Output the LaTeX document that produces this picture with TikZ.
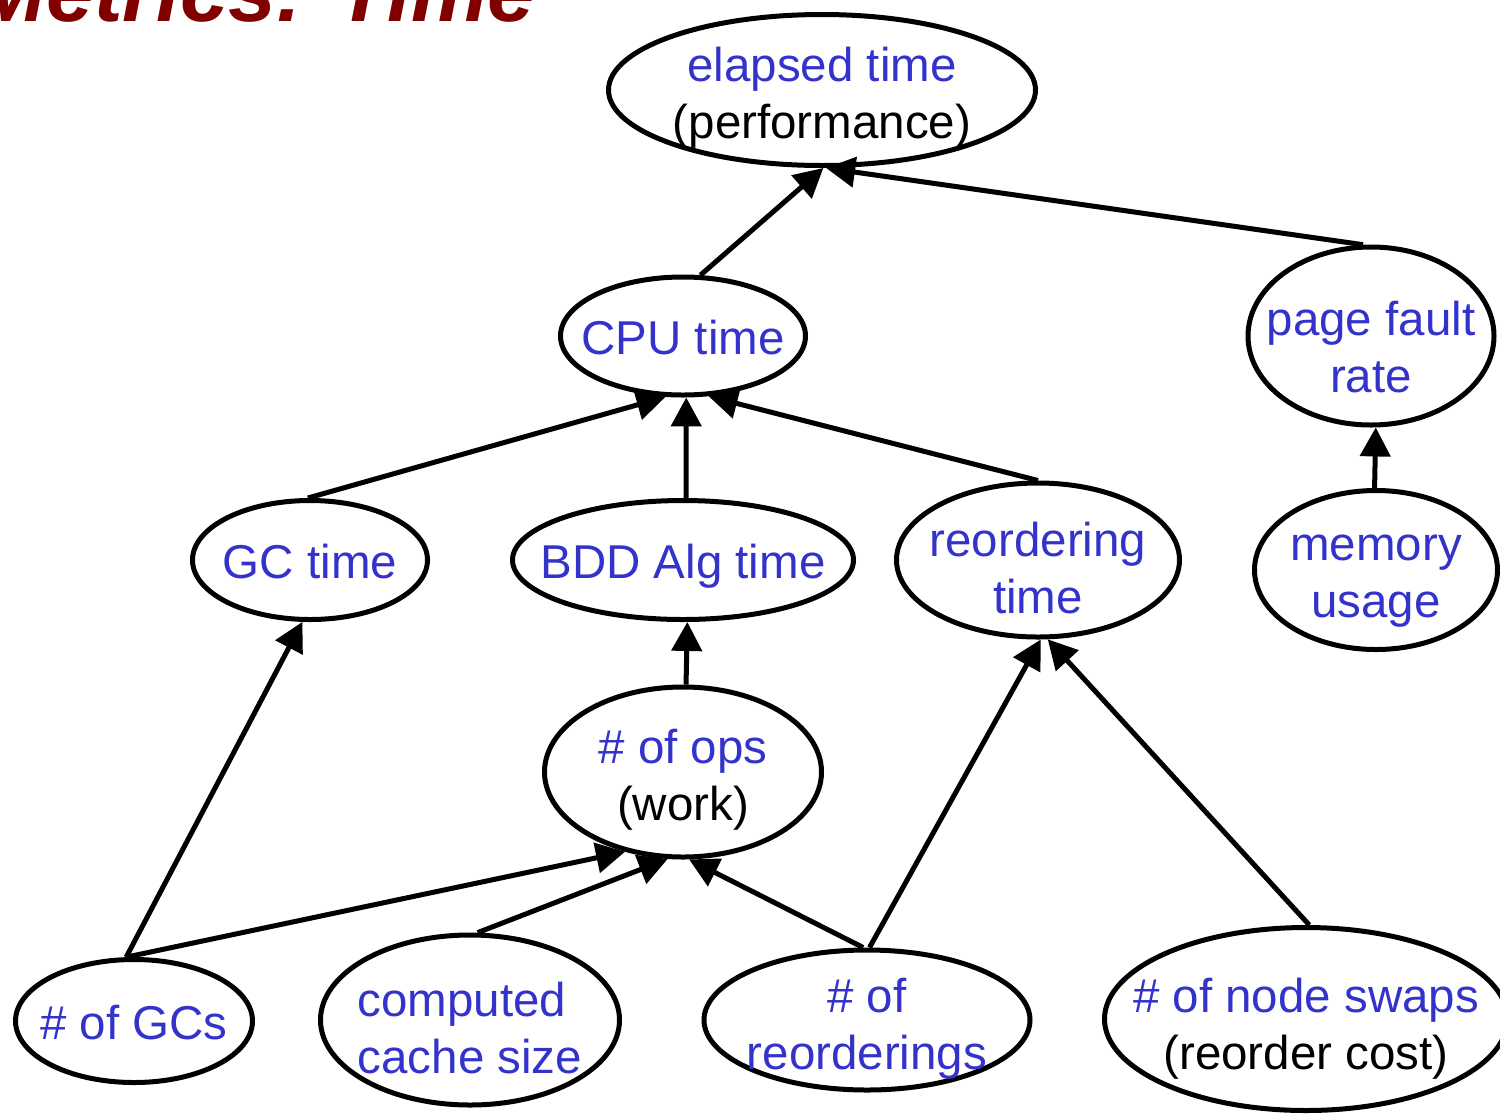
\documentclass[tikz,border=0pt]{standalone}
\usepackage{fontspec}
\setmainfont{Liberation Sans}
\usetikzlibrary{shapes.geometric,arrows.meta}
\definecolor{labelblue}{RGB}{51,51,204}
\definecolor{titlered}{RGB}{128,0,0}
\begin{document}
\begin{tikzpicture}[x=0.5pt,y=-0.5pt,
  oval/.style={ellipse,draw=black,line width=2.5pt,inner sep=0pt},
  oval size/.style 2 args={minimum width=#1*0.5pt,minimum height=#2*0.5pt},
  txt/.style={text=labelblue,font=\fontsize{23.75}{28.5}\selectfont,align=center,inner sep=0pt,yshift=-1pt},
  txt2/.style={txt,yshift=-3pt},
  link/.style={line width=2.5pt,-{Triangle[length=14.5pt,width=15pt]}}]
\clip (0,0) rectangle (1500,1115);
\useasboundingbox (0,0) rectangle (1500,1115);

% slide title, partly above the page edge
\node[anchor=base east,inner sep=0pt,text=titlered,
      font=\fontsize{43}{50}\selectfont\bfseries\itshape] (title) at (536,21) {Metrics: Time};

% metric ovals
\node[oval,oval size={427}{151}] (elapsed) at (822,90) {};
\node[oval,oval size={245}{118}] (cpu) at (683,336) {};
\node[oval,oval size={246}{178}] (page) at (1371,336) {};
\node[oval,oval size={235}{119}] (gc) at (310,560) {};
\node[oval,oval size={341}{119}] (bdd) at (683,560) {};
\node[oval,oval size={283}{154}] (reord) at (1038,560) {};
\node[oval,oval size={243}{159}] (mem) at (1376,570) {};
\node[oval,oval size={277}{170}] (ops) at (683,772) {};
\node[oval,oval size={237}{123}] (gcs) at (134,1021) {};
\node[oval,oval size={299}{170}] (cache) at (470,1020) {};
\node[oval,oval size={326}{140}] (reorderings) at (867,1020) {};
\node[oval,oval size={403}{183}] (swaps) at (1306,1019) {};

% labels
\node[txt2] (elapsed-t) at (elapsed) {elapsed time\\\textcolor{black}{(performance)}};
\node[txt] (cpu-t) at (cpu) {CPU time};
\node[txt2,yshift=-1.5pt] (page-t) at (page) {page fault\\rate};
\node[txt] (gc-t) at (gc) {GC time};
\node[txt,yshift=-2pt] (bdd-t) at (bdd) {BDD Alg time};
\node[txt2] (reord-t) at (reord) {reordering\\time};
\node[txt2,yshift=-1.5pt] (mem-t) at (mem) {memory\\usage};
\node[txt2] (ops-t) at (ops) {\# of ops\\\textcolor{black}{(work)}};
\node[txt] (gcs-t) at (gcs) {\# of GCs};
\node[txt2,align=left] (cache-t) at (cache) {computed\\cache size};
\node[txt2,yshift=-0.5pt] (reorderings-t) at (reorderings) {\# of\\reorderings};
\node[txt2,yshift=-1pt] (swaps-t) at (swaps) {\# of node swaps\\\textcolor{black}{(reorder cost)}};

% dependencies
\draw[link] (cpu.74) -- (elapsed.-89);
\draw[link] (page.95) -- (elapsed.-87);
\draw[link] (gc.92) -- (cpu.254);
\draw[link] (bdd.87.5) -- (cpu.-87.4);
\draw[link] (reord.90) -- (cpu.-67);
\draw[link] (mem.91) -- (page.-87.6);
\draw[link] (ops.88.7) -- (bdd.-86.5);
\draw[link] (gcs.97.8) -- (gc.263);
\draw[link] (gcs.97.8) -- (ops.234.7);
\draw[link] (cache.85.9) -- (ops.260);
\draw[link] (reorderings.93.8) -- (ops.-86.9);
\draw[link] (reorderings.88.4) -- (reord.-88.6);
\draw[link] (swaps.88.8) -- (reord.-83.8);
\end{tikzpicture}
\end{document}
